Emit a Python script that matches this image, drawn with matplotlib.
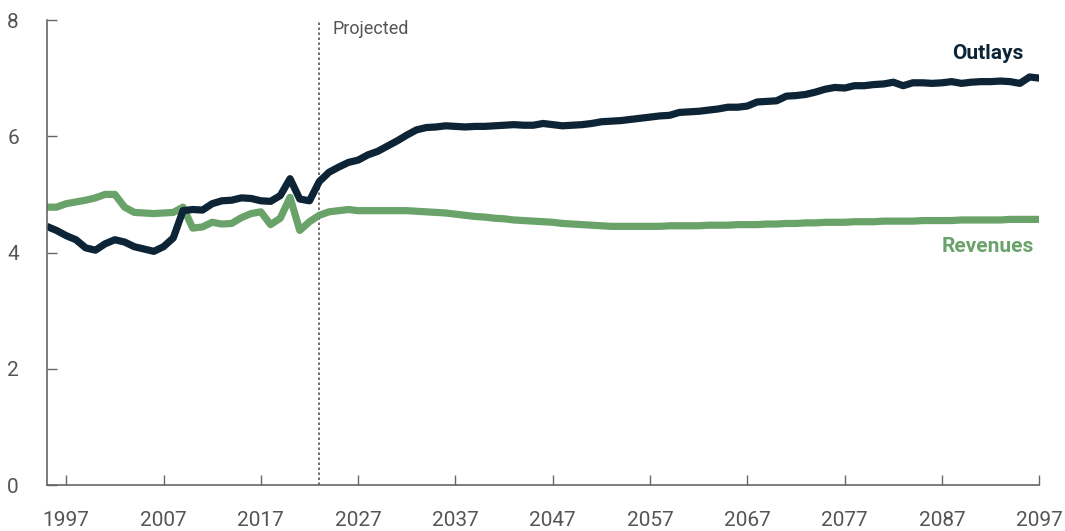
import matplotlib
matplotlib.use("Agg")
from matplotlib import pyplot as plt

# anos e valores (% do PIB)
anos_hist = list(range(1995, 2023))
anos_proj = list(range(2023, 2098))

outlays_hist = [4.45, 4.38, 4.29, 4.22, 4.08, 4.04, 4.15, 4.22, 4.18, 4.10,
                4.06, 4.02, 4.10, 4.25, 4.72, 4.74, 4.73, 4.84, 4.89, 4.90,
                4.94, 4.93, 4.89, 4.88, 4.98, 5.27, 4.92, 4.89]
revenues_hist = [4.78, 4.78, 4.84, 4.87, 4.90, 4.94, 5.00, 5.00, 4.78, 4.69,
                 4.68, 4.67, 4.68, 4.69, 4.78, 4.42, 4.44, 4.52, 4.49, 4.50,
                 4.60, 4.67, 4.70, 4.48, 4.59, 4.95, 4.38, 4.53]

outlays_proj = [5.22, 5.38, 5.47, 5.55, 5.59, 5.68, 5.74, 5.83, 5.92, 6.02,
                6.11, 6.15, 6.16, 6.18, 6.17, 6.16, 6.17, 6.17, 6.18, 6.19,
                6.20, 6.19, 6.19, 6.22, 6.20, 6.18, 6.19, 6.20, 6.22, 6.25,
                6.26, 6.27, 6.29, 6.31, 6.33, 6.35, 6.36, 6.41, 6.42, 6.43,
                6.45, 6.47, 6.50, 6.50, 6.52, 6.59, 6.60, 6.61, 6.69, 6.70,
                6.72, 6.76, 6.81, 6.84, 6.83, 6.87, 6.87, 6.89, 6.90, 6.93,
                6.87, 6.92, 6.92, 6.91, 6.92, 6.94, 6.91, 6.93, 6.94, 6.94,
                6.95, 6.94, 6.91, 7.02, 7.00]
revenues_proj = [4.64, 4.70, 4.72, 4.74, 4.72, 4.72, 4.72, 4.72, 4.72, 4.72,
                 4.71, 4.70, 4.69, 4.68, 4.66, 4.64, 4.62, 4.61, 4.59, 4.58,
                 4.56, 4.55, 4.54, 4.53, 4.52, 4.50, 4.49, 4.48, 4.47, 4.46,
                 4.45, 4.45, 4.45, 4.45, 4.45, 4.45, 4.46, 4.46, 4.46, 4.46,
                 4.47, 4.47, 4.47, 4.48, 4.48, 4.48, 4.49, 4.49, 4.50, 4.50,
                 4.51, 4.51, 4.52, 4.52, 4.52, 4.53, 4.53, 4.53, 4.54, 4.54,
                 4.54, 4.54, 4.55, 4.55, 4.55, 4.55, 4.56, 4.56, 4.56, 4.56,
                 4.56, 4.57, 4.57, 4.57, 4.57]

xticks = list(range(1997, 2098, 10))
yticks = [0, 2, 4, 6, 8]
ano_projecao = 2023

#config
plt.rcParams['font.family'] = ['Roboto', 'DejaVu Sans']
cor_out = '#0c2436'
cor_rev = '#6aa36a'
cinza = '#555555'

fig = plt.figure(figsize=(10.65, 5.31), dpi=100)
ax = fig.add_axes([0.0439, 0.0866, 0.9320, 0.8757])

anos = anos_hist + anos_proj
ax.plot(anos, revenues_hist + revenues_proj, color=cor_rev, lw=5.2,
        solid_capstyle='butt', solid_joinstyle='round')
ax.plot(anos, outlays_hist + outlays_proj, color=cor_out, lw=5.2,
        solid_capstyle='butt', solid_joinstyle='round')

ax.axvline(ano_projecao, color='#555555', lw=1.2, ls=(0, (1.5, 1.5)), zorder=1)
ax.text(ano_projecao + 1.4, 7.84, 'Projected', color=cinza, fontsize=13,
        va='center', ha='left')

# rotulos das series
ax.text(2091.7, 7.43, 'Outlays', color=cor_out, fontsize=15, fontweight='bold',
        ha='center', va='center')
ax.text(2091.7, 4.10, 'Revenues', color=cor_rev, fontsize=15, fontweight='bold',
        ha='center', va='center')

ax.set_xlim(1995, 2097)
ax.set_ylim(0, 8)
ax.set_xticks(xticks)
ax.set_yticks(yticks)
ax.tick_params(axis='x', direction='in', length=7, width=1, color='#666666',
               labelsize=15, labelcolor=cinza, pad=19)
ax.tick_params(axis='y', direction='in', length=7, width=1, color='#666666',
               labelsize=15, labelcolor=cinza, pad=20)
for s in ['top', 'right']:
    ax.spines[s].set_visible(False)
for s in ['left', 'bottom']:
    ax.spines[s].set_color('#666666')
    ax.spines[s].set_linewidth(1.2)

fig.savefig('out.png', dpi=100)
